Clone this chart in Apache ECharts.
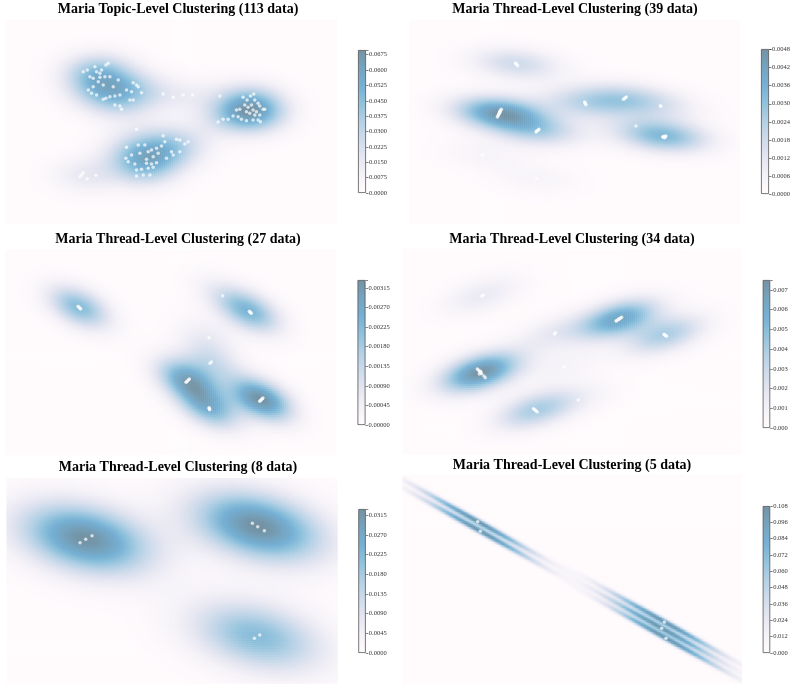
<!DOCTYPE html>
<html><head><meta charset="utf-8">
<script src="https://cdn.jsdelivr.net/npm/echarts@6/dist/echarts.min.js"></script>
<style>html,body{margin:0;padding:0;background:#fff}#c{width:793px;height:691px}</style>
</head><body><div id="c"></div>
<script>
// ---------------- DATA ----------------
const titles = [
  'Maria Topic-Level Clustering (113 data)',
  'Maria Thread-Level Clustering (39 data)',
  'Maria Thread-Level Clustering (27 data)',
  'Maria Thread-Level Clustering (34 data)',
  'Maria Thread-Level Clustering (8 data)',
  'Maria Thread-Level Clustering (5 data)'
];
// point coordinates (embedding units; y grows downward)
const pointsTopic113 = [
  [250,155],[262,150],[285,140],[290,155],[300,160],[318,135],[325,130],[305,150],[270,170],[280,175],
  [300,172],[315,170],[330,170],[310,195],[280,200],[265,210],[275,220],[290,225],[310,238],[318,235],
  [330,230],[345,228],[360,225],[345,255],[360,258],[365,268],[380,210],[390,240],[400,240],[400,188],
  [410,195],[415,200],[395,215],[425,218],[295,185],[340,200],[355,180],
  [490,222],[520,232],[550,225],[578,225],[660,228],
  [730,232],[742,240],[752,228],[762,222],[765,240],[735,255],[745,262],[755,255],[775,250],[780,258],
  [790,268],[760,270],[770,275],[720,268],[710,270],[700,288],[715,290],[725,298],[740,302],[760,300],
  [775,300],[782,305],[780,285],[685,298],[670,298],[655,306],[795,268],[750,280],[740,275],[765,285],
  [410,328],[490,347],[530,358],[540,360],[555,372],[565,365],[380,382],[415,375],[435,375],[470,385],
  [485,378],[445,395],[460,410],[440,418],[475,400],[515,395],[520,405],[540,395],[378,415],[385,425],
  [405,432],[440,430],[455,432],[470,428],[410,450],[425,448],[445,445],[460,442],[410,468],[430,465],
  [450,465],[420,400],[455,390],[495,365],[500,415],[395,405],
  [250,458],[245,465],[240,470],[262,476],[288,466]
];
const pointsThread39 = [
  [346,129],[348,131],[350,133],[353,137],
  [304,268],[302,271],[300,274],[299,277],[298,280],[297,282],[295,285],[294,288],[292,291],[300,276],
  [408,336],[410,334],[412,332],[415,330],[417,328],
  [554,246],[555,248],[556,251],[558,254],
  [670,238],[673,236],[676,233],[679,231],
  [781,257],[783,259],
  [708,318],
  [788,350],[790,352],[792,351],[794,353],[796,350],[798,348],[793,349],
  [248,405],
  [410,476]
];
const pointsThread27 = [
  [234,184],[237,187],[240,190],[242,192],
  [668,152],
  [748,199],[750,201],[752,203],[754,205],
  [627,278],
  [630,355],[634,351],
  [558,412],[560,410],[563,407],[566,404],[568,402],
  [627,488],[628,490],[628,492],[629,494],
  [779,469],[781,467],[783,465],[785,463],[787,461],[789,459]
];
const pointsThread34 = [
  [232,372],[235,375],[238,378],[240,381],[243,383],[245,386],[238,387],[242,379],[252,393],[256,398],
  [648,228],[650,227],[653,225],[656,223],[659,221],[662,219],[665,217],[657,222],
  [792,268],[794,269],[796,271],[798,272],[800,274],
  [400,491],[403,493],[406,496],[409,498],[412,501],
  [463,267],[467,263],
  [246,154],[250,150],
  [493,365],
  [535,465]
];
const pointsThread8 = [[240,218],[257,208],[276,197],[757,160],[773,170],[793,182],[763,505],[779,495]];
const pointsThread5 = [[233,155],[241,184],[793,456],[785,475],[798,505]];

// colorbar tick settings
const cbMax      = [0.0698, 0.00482, 0.00333, 0.0075, 0.0329, 0.108];
const cbInterval = [0.0075, 0.0006, 0.00045, 0.001, 0.0045, 0.012];
const cbDecimals = [4, 4, 5, 3, 4, 3];
const bwAdjust   = [0.85, 0.85, 0.62, 0.7, 0.72, 0.5];

// ---------------- STYLE / LAYOUT ----------------
const colormap = ['#fffbfd','#f5f2f8','#e5e6f1','#cedbeb','#b3d0e5','#91c2dc','#76b0d4','#75a4c0','#7492a3'];
const allPoints = [pointsTopic113, pointsThread39, pointsThread27, pointsThread34, pointsThread8, pointsThread5];
const layout = [
  {plot:{l:6,t:20,w:331,h:204},    xr:[18,1012], yr:[0,612],  cb:{l:358,t:50,w:8,h:143}, cell:2, title:{x:178,y:2}},
  {plot:{l:409.3,t:20,w:330.7,h:204}, xr:[28,1020], yr:[0,612], cb:{l:761,t:49,w:8,h:145}, cell:2, title:{x:575,y:2}},
  {plot:{l:5,t:250,w:331,h:205},   xr:[15,1008], yr:[15,630], cb:{l:357.5,t:280,w:8,h:145}, cell:2, title:{x:178,y:232}},
  {plot:{l:403.3,t:249,w:338.3,h:205.3}, xr:[10,1025], yr:[12,628], cb:{l:762.7,t:280,w:7.5,h:148}, cell:2, title:{x:572,y:232}},
  {plot:{l:6.7,t:478.3,w:330.7,h:205}, xr:[20,1012], yr:[25,640], cb:{l:358.3,t:509,w:7.5,h:144}, cell:2, title:{x:178,y:460}},
  {plot:{l:402.7,t:475,w:339,h:208.3}, xr:[8,1025], yr:[15,640], cb:{l:762.7,t:506,w:7.5,h:147}, cell:1.5, title:{x:572,y:458}}
];
const FONT = '"Liberation Serif","DejaVu Serif",serif';

// Gaussian KDE (Scott's rule, full covariance) evaluated on the heatmap cell centres
function kdeGrid(pts, xr, yr, nx, ny, vmax, adj) {
  const n = pts.length;
  let mx = 0, my = 0;
  pts.forEach(p => { mx += p[0]; my += p[1]; });
  mx /= n; my /= n;
  let sxx = 0, syy = 0, sxy = 0;
  pts.forEach(p => { const dx = p[0]-mx, dy = p[1]-my; sxx += dx*dx; syy += dy*dy; sxy += dx*dy; });
  sxx /= (n-1); syy /= (n-1); sxy /= (n-1);
  const f2 = Math.pow(n, -1/3) * adj * adj;
  const a = sxx*f2, b = sxy*f2, c = syy*f2;
  const det = a*c - b*b;
  const i00 = c/det, i01 = -b/det, i11 = a/det;
  const out = []; let max = 0;
  for (let j = 0; j < ny; j++) {
    const y = yr[0] + (j+0.5)*(yr[1]-yr[0])/ny;
    for (let i = 0; i < nx; i++) {
      const x = xr[0] + (i+0.5)*(xr[1]-xr[0])/nx;
      let s = 0;
      for (let k = 0; k < n; k++) {
        const dx = x-pts[k][0], dy = y-pts[k][1];
        s += Math.exp(-0.5*(i00*dx*dx + 2*i01*dx*dy + i11*dy*dy));
      }
      if (s > max) max = s;
      out.push([i, j, s]);
    }
  }
  out.forEach(d => { d[2] = d[2]/max*vmax; });
  return out;
}

const grid = [], xAxis = [], yAxis = [], series = [], visualMap = [], title = [];
layout.forEach((L, p) => {
  const nx = Math.round(L.plot.w / L.cell), ny = Math.round(L.plot.h / L.cell);
  const cats = n => Array.from({length:n}, (_, i) => i);
  grid.push({left:L.plot.l, top:L.plot.t, width:L.plot.w, height:L.plot.h});
  grid.push({left:L.cb.l, top:L.cb.t, width:L.cb.w, height:L.cb.h});
  const g = 2*p;
  xAxis.push({type:'category', gridIndex:g, data:cats(nx), show:false});
  xAxis.push({type:'value', gridIndex:g, min:L.xr[0], max:L.xr[1], show:false});
  xAxis.push({type:'category', gridIndex:g+1, data:['cb'], show:false});
  yAxis.push({type:'category', gridIndex:g, data:cats(ny), inverse:true, show:false});
  yAxis.push({type:'value', gridIndex:g, min:L.yr[0], max:L.yr[1], inverse:true, show:false});
  const iv = cbInterval[p], dec = cbDecimals[p];
  yAxis.push({type:'value', gridIndex:g+1, min:0, max:cbMax[p], interval:iv, position:'right',
    axisLine:{show:false}, splitLine:{show:false},
    axisTick:{show:true, length:2.5, lineStyle:{color:'#333', width:0.6}},
    axisLabel:{fontSize:6.5, fontFamily:FONT, color:'#333', margin:3, showMaxLabel:true,
      formatter: v => (Math.abs(v/iv - Math.round(v/iv)) < 1e-6 ? v.toFixed(dec) : '')}
  });
  const hi = series.length;
  series.push({type:'heatmap', xAxisIndex:3*p, yAxisIndex:3*p, progressive:0, silent:true,
    data:kdeGrid(allPoints[p], L.xr, L.yr, nx, ny, cbMax[p], bwAdjust[p]), emphasis:{disabled:true}});
  series.push({type:'scatter', xAxisIndex:3*p+1, yAxisIndex:3*p+1, silent:true, symbolSize:3.5,
    itemStyle:{color:'rgba(255,255,255,0.88)'}, data:allPoints[p]});
  series.push({type:'bar', xAxisIndex:3*p+2, yAxisIndex:3*p+2, silent:true, barWidth:'100%',
    data:[cbMax[p]],
    itemStyle:{borderColor:'#555', borderWidth:0.8,
      color:{type:'linear', x:0, y:1, x2:0, y2:0,
        colorStops: colormap.map((c, i) => ({offset:i/(colormap.length-1), color:c}))}}});
  visualMap.push({type:'continuous', show:false, seriesIndex:hi, min:0, max:cbMax[p], inRange:{color:colormap}});
  title.push({text:titles[p], left:L.title.x, top:L.title.y, textAlign:'center', padding:0,
    textStyle:{fontFamily:FONT, fontWeight:'bold', fontSize:14, color:'#000'}});
});

const chart = echarts.init(document.getElementById('c'), null, {renderer:'canvas'});
chart.setOption({animation:false, backgroundColor:'#fff', title, grid, xAxis, yAxis, visualMap, series});
</script>
</body></html>
